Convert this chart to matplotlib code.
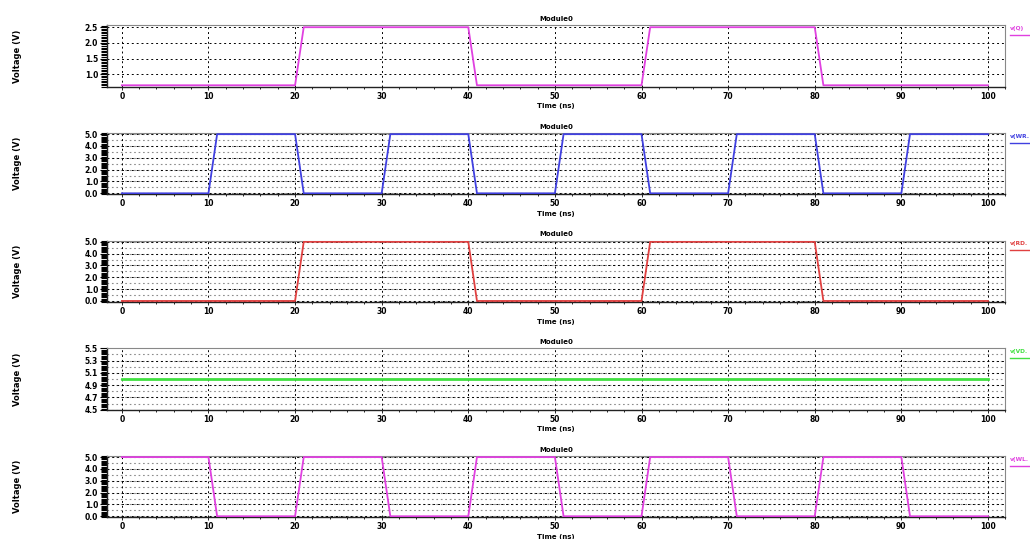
import numpy as np
import matplotlib.pyplot as plt
from matplotlib.ticker import MultipleLocator

# transient waveforms, breakpoints in ns and V
t_q = [0, 20, 21, 40, 41, 60, 61, 80, 81, 100]
v_q = [0.65, 0.65, 2.5, 2.5, 0.65, 0.65, 2.5, 2.5, 0.65, 0.65]

t_wr = [0, 10, 11, 20, 21, 30, 31, 40, 41, 50, 51, 60, 61, 70, 71, 80, 81, 90, 91, 100]
v_wr = [0, 0, 5, 5, 0, 0, 5, 5, 0, 0, 5, 5, 0, 0, 5, 5, 0, 0, 5, 5]

t_rd = [0, 20, 21, 40, 41, 60, 61, 80, 81, 100]
v_rd = [0, 0, 5, 5, 0, 0, 5, 5, 0, 0]

t_vdd = [0, 100]
v_vdd = [5.0, 5.0]

t_wl = [0, 10, 11, 20, 21, 30, 31, 40, 41, 50, 51, 60, 61, 70, 71, 80, 81, 90, 91, 100]
v_wl = [5, 5, 0, 0, 5, 5, 0, 0, 5, 5, 0, 0, 5, 5, 0, 0, 5, 5, 0, 0]

names = ["v(Q)", "v(WR.", "v(RD.", "v(VD.", "v(WL."]
colors = ["#e040e0", "#4040e0", "#e04040", "#40e040", "#e040e0"]
series = [(t_q, v_q), (t_wr, v_wr), (t_rd, v_rd), (t_vdd, v_vdd), (t_wl, v_wl)]
ylims = [(0.6, 2.56), (-0.1, 5.1), (-0.1, 5.1), (4.5, 5.5), (-0.1, 5.1)]
ymajor = [0.5, 1.0, 1.0, 0.2, 1.0]
yoffset = [0, 0, 0, 0.1, 0]
ytickminor = [0.05, 0.1, 0.1, 0.02, 0.1]
# grey dotted lines between the major ones (none on the top panel)
ygrey = [None, 0.5, 0.5, 0.1, 0.5]

fig, axes = plt.subplots(5, 1, figsize=(10.3, 5.39), dpi=100)
fig.subplots_adjust(left=0.104, right=0.976, top=0.953, bottom=0.04, hspace=0.75)

for i, ax in enumerate(axes):
    t, v = series[i]
    lo, hi = ylims[i]
    if ygrey[i]:
        for y in np.arange(np.ceil(lo / ygrey[i]) * ygrey[i], hi, ygrey[i]):
            ax.axhline(y, color="#8c8c8c", linestyle=(0, (1.5, 2.5)), linewidth=0.8, zorder=1)
    ax.plot(t, v, color=colors[i], linewidth=1.3 if i != 3 else 2, zorder=3)
    ax.set_xlim(-1.7, 102)
    ax.set_ylim(lo, hi)
    ax.xaxis.set_major_locator(MultipleLocator(10))
    ax.xaxis.set_minor_locator(MultipleLocator(2))
    ax.yaxis.set_major_locator(MultipleLocator(ymajor[i], offset=yoffset[i]))
    ax.yaxis.set_minor_locator(MultipleLocator(ytickminor[i]))
    ax.yaxis.set_major_formatter(plt.FormatStrFormatter("%.1f"))
    ax.grid(which="major", color="black", linestyle=(0, (2, 3)), linewidth=0.7)
    ax.tick_params(axis="both", labelsize=5.5, length=2, width=0.6, pad=1.5)
    ax.tick_params(axis="y", which="minor", length=4, width=0.8)
    ax.tick_params(axis="y", which="major", length=5, width=0.8)
    ax.tick_params(axis="x", which="minor", length=1.5)
    for lbl in ax.get_xticklabels() + ax.get_yticklabels():
        lbl.set_fontweight("bold")
    for side in ["top", "right"]:
        ax.spines[side].set_color("#888888")
    for side in ["left", "bottom"]:
        ax.spines[side].set_color("#222222")
        ax.spines[side].set_linewidth(1.0)
    ax.set_title("Module0", fontsize=5, fontweight="bold", pad=3)
    ax.set_xlabel("Time (ns)", fontsize=5, fontweight="bold", labelpad=2)
    ax.set_ylabel("Voltage (V)", fontsize=6, fontweight="bold", labelpad=0)
    ax.yaxis.set_label_coords(-0.095, 0.5)

    # trace tag outside the right edge
    ax.text(1.005, 0.95, names[i], transform=ax.transAxes, fontsize=4.2,
            fontweight="bold", color=colors[i], va="center", ha="left", clip_on=False)
    ax.plot([1.005, 1.05], [0.84, 0.84], transform=ax.transAxes, color=colors[i],
            linewidth=1.0, clip_on=False)

fig.savefig("out.png", dpi=100)
